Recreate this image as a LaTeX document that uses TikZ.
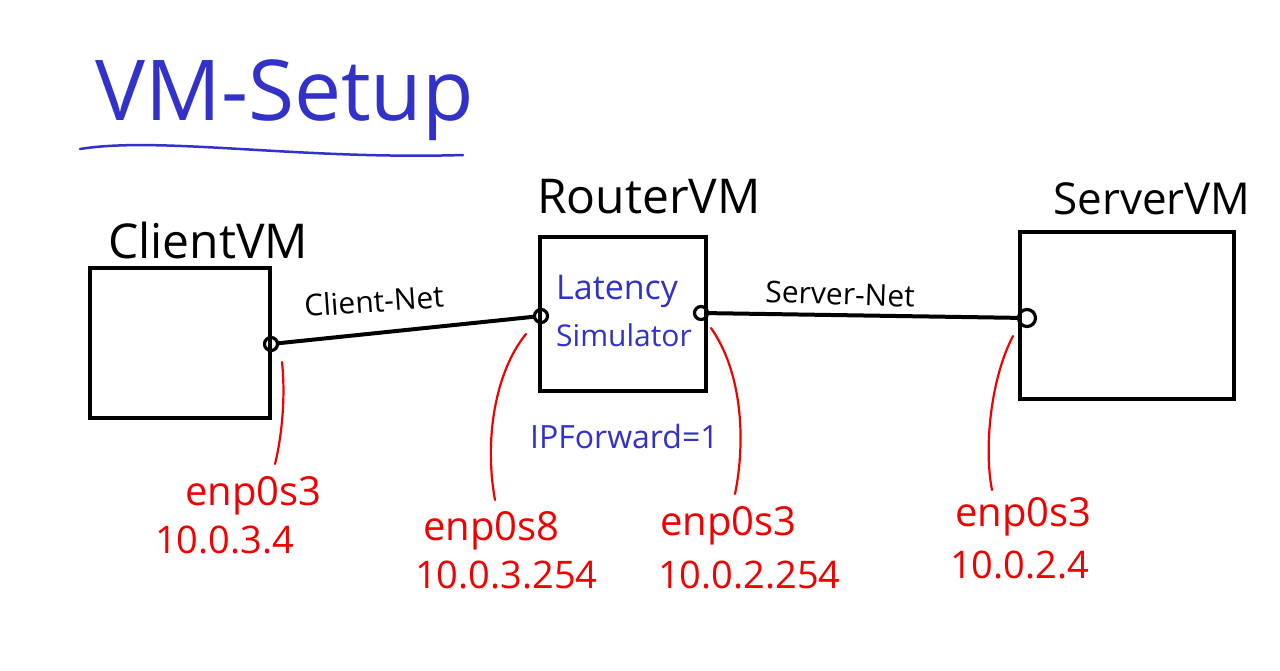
\documentclass[tikz,border=0pt]{standalone}
\usepackage{fontspec}
\setmainfont{Open Sans}
\definecolor{handblue}{RGB}{50,50,200}
\definecolor{handred}{RGB}{240,0,0}
\begin{document}
\begin{tikzpicture}[x=1pt,y=-1pt,
  vmbox/.style={draw=black,line width=4pt,rectangle,inner sep=0pt},
  port/.style={draw=black,line width=3.2pt,circle,inner sep=0pt,minimum size=13pt},
  net/.style={draw=black,line width=4pt,line cap=round},
  redline/.style={draw=handred,line width=2.2pt,line cap=round},
  vmtitle/.style={anchor=base west,inner sep=0pt,text=black,font=\fontsize{48}{52}\selectfont},
  netlabel/.style={anchor=base west,inner sep=0pt,text=black,font=\fontsize{30}{34}\selectfont},
  bluetext/.style={anchor=base west,inner sep=0pt,text=handblue,font=\fontsize{30}{34}\selectfont},
  ifname/.style={anchor=base west,inner sep=0pt,text=handred,font=\fontsize{40}{44}\selectfont},
  ipaddr/.style={anchor=base west,inner sep=0pt,text=handred,font=\fontsize{38}{42}\selectfont}]
\useasboundingbox[fill=white] (0,0) rectangle (1280,670);

% title
\node[anchor=base west,inner sep=0pt,text=handblue,font=\fontsize{84}{90}\selectfont] (title) at (95,120) {VM-Setup};
\draw[handblue,line width=2.5pt,line cap=round] (80,149) .. controls (160,136) and (300,160) .. (463,155);

% VM boxes
\node[vmbox,minimum width=180pt,minimum height=150pt] (client) at (180,343) {};
\node[vmbox,minimum width=166pt,minimum height=154pt] (router) at (623,314) {};
\node[vmbox,minimum width=214pt,minimum height=167pt] (server) at (1127,315) {};

\node[vmtitle] (clientlbl) at (108,258) {ClientVM};
\node[vmtitle] (routerlbl) at (537,213) {RouterVM};
\node[vmtitle,font=\fontsize{44}{48}\selectfont] (serverlbl) at (1053,214) {ServerVM};

% router contents
\node[bluetext,font=\fontsize{34}{38}\selectfont] (lat) at (556,299) {Latency};
\node[bluetext] (sim) at (556,346) {Simulator};
\node[bluetext,font=\fontsize{32}{36}\selectfont] (ipf) at (530,448) {IPForward=1};

% ports
\node[port] (pc) at (271,344) {};
\node[port] (prl) at (541,316) {};
\node[port] (prr) at (701,313) {};
\node[port,minimum size=17pt] (ps) at (1027,318) {};

% networks
\draw[net] (pc) -- (prl);
\draw[net] (prr) -- (ps);
\node[netlabel,rotate=4] (cnet) at (305,317) {Client-Net};
\node[netlabel,rotate=-2] (snet) at (765,302) {Server-Net};

% interface labels
\node[ifname] (if1) at (185,505) {enp0s3};
\node[ipaddr] (ip1) at (155,553) {10.0.3.4};
\node[ifname] (if2) at (423,540) {enp0s8};
\node[ipaddr] (ip2) at (415,588) {10.0.3.254};
\node[ifname] (if3) at (660,535) {enp0s3};
\node[ipaddr] (ip3) at (658,588) {10.0.2.254};
\node[ifname] (if4) at (955,526) {enp0s3};
\node[ipaddr] (ip4) at (950,578) {10.0.2.4};

% red pointers
\coordinate (s1) at (282,362); \coordinate (e1) at (275,464);
\coordinate (s2) at (526,334); \coordinate (e2) at (495,500);
\coordinate (s3) at (711,328); \coordinate (e3) at (735,494);
\coordinate (s4) at (1013,336); \coordinate (e4) at (992,490);
\draw[redline] (s1) .. controls (286,400) and (281,440) .. (e1);
\draw[redline] (s2) .. controls (495,372) and (484,440) .. (e2);
\draw[redline] (s3) .. controls (742,372) and (746,440) .. (e3);
\draw[redline] (s4) .. controls (990,380) and (984,450) .. (e4);
\end{tikzpicture}
\end{document}
